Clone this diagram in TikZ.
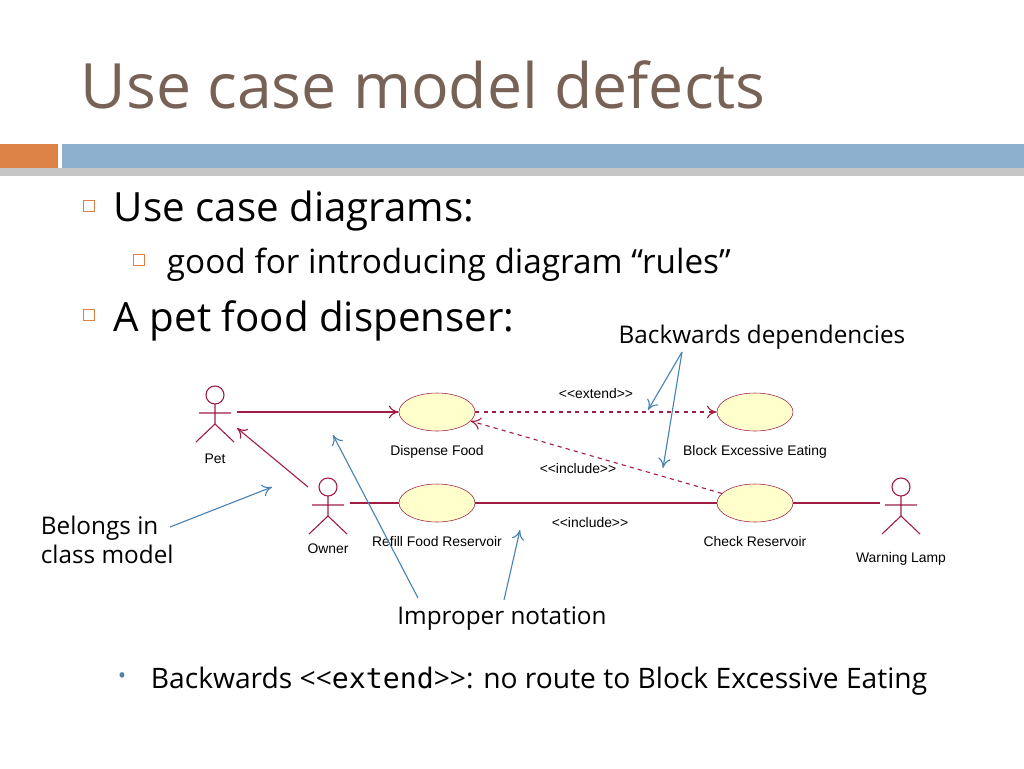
\documentclass[tikz,border=0pt]{standalone}
\usepackage{fontspec}
\setmainfont{Open Sans}
\newfontfamily\umlfont{Liberation Sans}
\newfontfamily\monofont{DejaVu Sans Mono}
\usetikzlibrary{arrows.meta}
\definecolor{umlred}{RGB}{160,30,70}
\definecolor{ucfill}{RGB}{255,255,204}
\definecolor{notes}{RGB}{70,130,180}
\definecolor{titlec}{RGB}{120,98,86}
\definecolor{barblue}{RGB}{140,176,206}
\definecolor{barorange}{RGB}{220,130,70}
\tikzset{
  usecase/.style={ellipse,draw=umlred,fill=ucfill,minimum width=76\px,minimum height=38\px,inner sep=0pt},
  uml/.style={font=\umlfont\fontsize{10}{12}\selectfont},
  assoc/.style={draw=umlred,thick},
  dep/.style={draw=umlred,thick,dashed,-{To[length=7pt,width=9pt]}},
  note/.style={draw=notes,thick,-{To[length=7pt,width=9pt]}},
  bullet/.style={draw=barorange,thin,minimum size=11\px,inner sep=0pt}
}
\newcommand\px{pt*0.72}
\newcommand\actor[2]{% name, head position
  \draw[umlred,thick] (#2) circle (9)
    ($(#2)+(0,9)$) -- ($(#2)+(0,29)$) coordinate (#1-hip)
    ($(#2)+(-16,18)$) -- ($(#2)+(16,18)$)
    (#1-hip) -- ++(-19,18) (#1-hip) -- ++(19,18);}
\usetikzlibrary{calc,shapes.geometric}
\begin{document}
\begin{tikzpicture}[x=0.72pt,y=-0.72pt,>=Stealth]
\useasboundingbox (0,0) rectangle (1024,768);
% header
\node[anchor=west,text=titlec,font=\fontsize{45}{50}\selectfont] (title) at (76,85) {Use case model defects};
\fill[gray!45] (0,168) rectangle (1024,176);
\fill[barorange] (0,144) rectangle (58,168);
\fill[barblue] (62,144) rectangle (1024,168);
% bullets
\node[bullet] (b1) at (89,206) {};
\node[anchor=west,font=\fontsize{29}{32}\selectfont] (t1) at (109,211) {Use case diagrams:};
\node[bullet] (b2) at (139,260) {};
\node[anchor=west,font=\fontsize{24}{28}\selectfont] (t2) at (162,265) {good for introducing diagram “rules”};
\node[bullet] (b3) at (89,315) {};
\node[anchor=west,font=\fontsize{29}{32}\selectfont] (t3) at (109,321) {A pet food dispenser:};
\node[text=notes!70!gray,font=\fontsize{16}{18}\selectfont] (b4) at (122,678) {•};
\node[anchor=west,font=\fontsize{20.3}{24}\selectfont] (t4) at (146,681) {Backwards {<}{<}{\monofont extend}{>}{>}: no route to Block Excessive Eating};
% use cases
\node[usecase] (dispense) at (437,412) {};
\node[usecase] (block) at (755,412) {};
\node[usecase] (refill) at (437,503) {};
\node[usecase] (check) at (755,503) {};
\node[uml] (ldispense) at (437,452) {Dispense Food};
\node[uml] (lblock) at (755,452) {Block Excessive Eating};
\node[uml] (lrefill) at (437,542) {Refill Food Reservoir};
\node[uml] (lcheck) at (755,542) {Check Reservoir};
% actors
\actor{pet}{215,395}
\actor{owner}{328,487}
\actor{lamp}{901,487}
\node[uml] (lpet) at (215,459) {Pet};
\node[uml] (lowner) at (328,549) {Owner};
\node[uml] (llamp) at (901,559) {Warning Lamp};
\coordinate (pet-r) at (237,412);
\coordinate (pet-br) at (237,428);
\coordinate (owner-tl) at (308,487);
\coordinate (owner-r) at (350,503);
\coordinate (lamp-l) at (880,503);
% connectors
\draw[assoc,-{To[length=7pt,width=9pt]}] (pet-r) -- (dispense);
\draw[assoc,-{To[length=7pt,width=9pt]}] (owner-tl) -- (pet-br);
\draw[assoc] (owner-r) -- (refill) (refill) -- (check) (check) -- (lamp-l);
\draw[dep] (dispense) -- node[uml,above=6pt,text=black] {{<}{<}extend{>}{>}} (block);
\draw[dep] (check) -- (dispense.-15);
\node[uml] (linc1) at (578,469) {{<}{<}include{>}{>}};
\node[uml] (linc2) at (590,523) {{<}{<}include{>}{>}};
% annotations
\node[font=\fontsize{17.5}{20}\selectfont] (backdep) at (762,337) {Backwards dependencies};
\node[align=left,anchor=west,font=\fontsize{17.5}{21}\selectfont] (belongs) at (36,540) {Belongs in\\class model};
\node[font=\fontsize{17.5}{20}\selectfont] (improper) at (502,618) {Improper notation};
\coordinate (bd) at (682,352);
\coordinate (bd1) at (648,410);
\coordinate (bd2) at (663,468);
\coordinate (bl) at (170,527);
\coordinate (bl1) at (272,487);
\coordinate (ip1) at (418,598);
\coordinate (ip1e) at (333,435);
\coordinate (ip2) at (504,600);
\coordinate (ip2e) at (520,530);
\draw[note] (bd) -- (bd1);
\draw[note] (bd) -- (bd2);
\draw[note] (bl) -- (bl1);
\draw[note] (ip1) -- (ip1e);
\draw[note] (ip2) -- (ip2e);
\end{tikzpicture}
\end{document}
